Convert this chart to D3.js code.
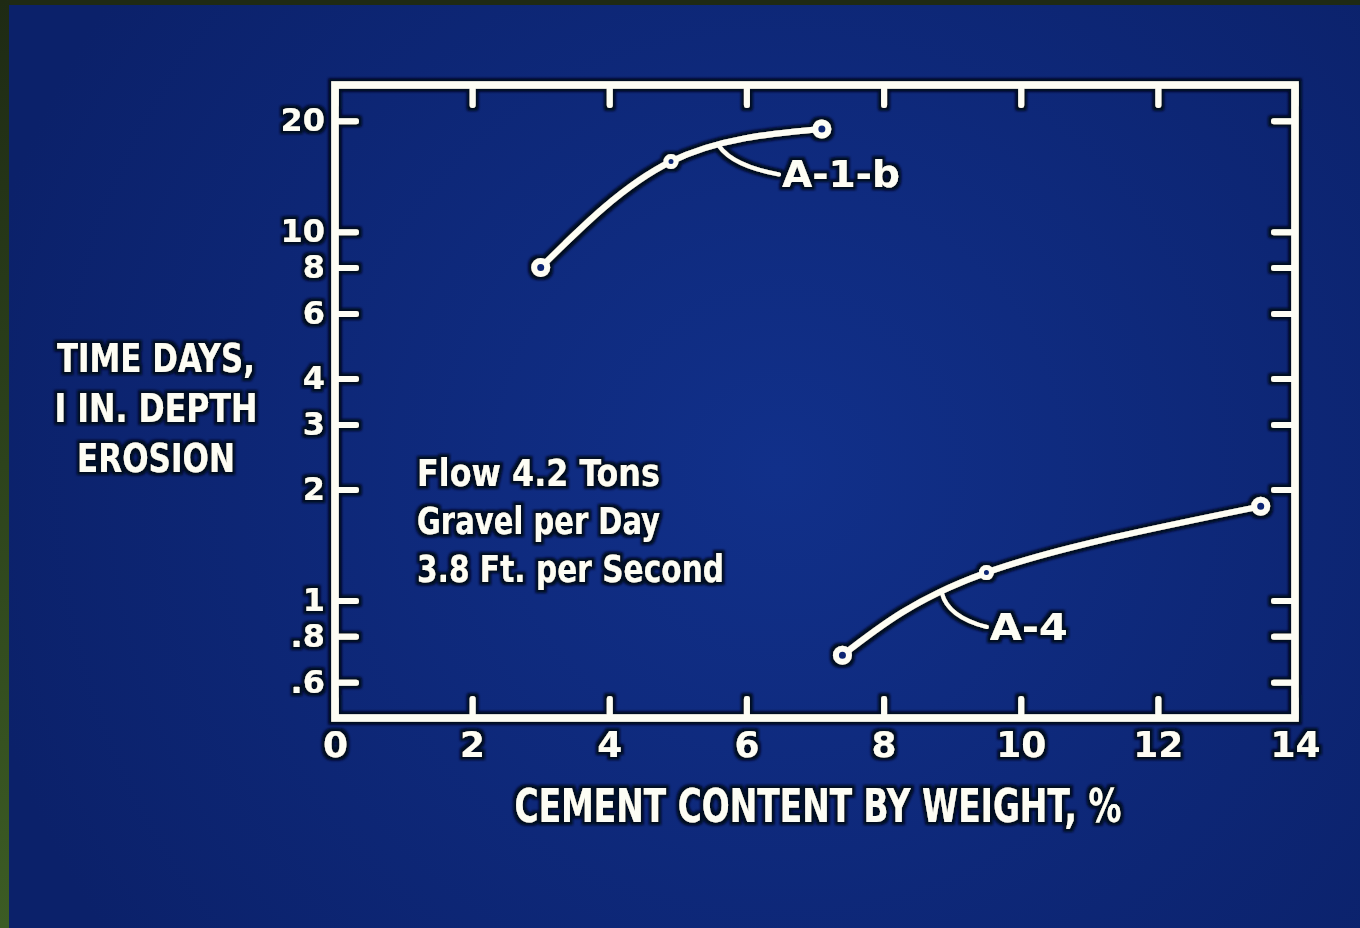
<!DOCTYPE html>
<html>
<head>
<meta charset="utf-8">
<script src="https://cdn.jsdelivr.net/npm/d3@7"></script>
<style>
  html, body { margin: 0; padding: 0; background: #0c226c; }
  svg { display: block; }
</style>
</head>
<body>
<svg id="chart" width="1360" height="928"></svg>
<script>
// Values
var xTicks = [0, 2, 4, 6, 8, 10, 12, 14];
var yTicks = [0.6, 0.8, 1, 2, 3, 4, 6, 8, 10, 20];
var yTickLabels = [".6", ".8", "1", "2", "3", "4", "6", "8", "10", "20"];

var a1bCement = [3.0, 4.9, 7.1];
var a1bDays = [8.0, 15.5, 19.0];

var a4Cement = [7.4, 9.5, 13.5];
var a4Days = [0.71, 1.19, 1.80];

var seriesNames = ["A-1-b", "A-4"];
var noteLines = ["Flow 4.2 Tons", "Gravel per Day", "3.8 Ft. per Second"];
var yTitleLines = ["TIME DAYS,", "I IN. DEPTH", "EROSION"];
var xTitle = "CEMENT CONTENT BY WEIGHT, %";

var ink = "#fdfdf4";
var svg = d3.select("#chart");

// background + the dark slide edges
var defs = svg.append("defs");
var bg = defs.append("radialGradient").attr("id", "bg")
  .attr("gradientUnits", "userSpaceOnUse")
  .attr("cx", 780).attr("cy", 470).attr("r", 820);
bg.append("stop").attr("offset", "0%").attr("stop-color", "#11308a");
bg.append("stop").attr("offset", "100%").attr("stop-color", "#0b216a");

var edge = defs.append("linearGradient").attr("id", "edge")
  .attr("x1", 0).attr("y1", 0).attr("x2", 0).attr("y2", 1);
edge.append("stop").attr("offset", "0%").attr("stop-color", "#1e2a14");
edge.append("stop").attr("offset", "100%").attr("stop-color", "#3c5c24");

// dark rim that the slide puts round every white stroke
var halo = defs.append("filter").attr("id", "halo")
  .attr("filterUnits", "userSpaceOnUse")
  .attr("x", 0).attr("y", 0).attr("width", 1360).attr("height", 928);
halo.append("feMorphology").attr("in", "SourceAlpha").attr("operator", "dilate")
  .attr("radius", 2.5).attr("result", "thick");
halo.append("feFlood").attr("flood-color", "#020824").attr("result", "dark");
halo.append("feComposite").attr("in", "dark").attr("in2", "thick")
  .attr("operator", "in").attr("result", "outline");
halo.append("feGaussianBlur").attr("in", "outline").attr("stdDeviation", 1).attr("result", "soft");
var merge = halo.append("feMerge");
merge.append("feMergeNode").attr("in", "soft");
merge.append("feMergeNode").attr("in", "SourceGraphic");

svg.append("rect").attr("width", 1360).attr("height", 928).attr("fill", "url(#bg)");
svg.append("rect").attr("width", 1360).attr("height", 5).attr("fill", "#1f2a14");
svg.append("rect").attr("width", 9).attr("height", 928).attr("fill", "url(#edge)");

// scales
var x = d3.scaleLinear().domain([0, 14]).range([335, 1295]);
var y = d3.scaleLog().domain([0.48, 25]).range([718, 85]);

var g = svg.append("g").attr("filter", "url(#halo)");

var tickFont = "'DejaVu Sans', 'Liberation Sans', sans-serif";
var letterFont = "'DejaVu Sans Condensed', 'Liberation Sans Narrow', 'DejaVu Sans', sans-serif";

function styleAxis(sel) {
  sel.attr("color", ink);
  sel.select(".domain").remove();
  sel.selectAll(".tick line")
    .attr("stroke-width", 6)
    .attr("stroke-linecap", "round");
  sel.selectAll(".tick text")
    .attr("font-family", tickFont)
    .attr("font-weight", "bold");
}

var labelFor = {};
yTicks.forEach(function(v, i) { labelFor[v] = yTickLabels[i]; });

// left axis with labels, ticks pointing inward
g.append("g")
  .attr("transform", "translate(" + x(0) + ",0)")
  .call(d3.axisLeft(y).tickValues(yTicks)
    .tickFormat(function(d) { return labelFor[d]; })
    .tickSize(-21).tickPadding(10))
  .call(styleAxis)
  .selectAll(".tick text").attr("font-size", 32);

// right axis, ticks only
g.append("g")
  .attr("transform", "translate(" + x(14) + ",0)")
  .call(d3.axisRight(y).tickValues(yTicks).tickFormat("").tickSize(-21))
  .call(styleAxis);

// bottom axis with labels
g.append("g")
  .attr("transform", "translate(0," + y.range()[0] + ")")
  .call(d3.axisBottom(x).tickValues(xTicks).tickFormat(d3.format("d"))
    .tickSize(-19).tickPadding(13))
  .call(styleAxis)
  .selectAll(".tick text").attr("font-size", 36);

// top axis, ticks only
g.append("g")
  .attr("transform", "translate(0," + y.range()[1] + ")")
  .call(d3.axisTop(x).tickValues(xTicks).tickFormat("").tickSize(-20))
  .call(styleAxis);

// frame
g.append("rect")
  .attr("x", x(0)).attr("y", y.range()[1])
  .attr("width", x(14) - x(0)).attr("height", y.range()[0] - y.range()[1])
  .attr("fill", "none").attr("stroke", ink).attr("stroke-width", 7.5);

// curves
var line = d3.line()
  .x(function(d) { return x(d[0]); })
  .y(function(d) { return y(d[1]); })
  .curve(d3.curveNatural);

var series = [
  { name: seriesNames[0], pts: d3.zip(a1bCement, a1bDays) },
  { name: seriesNames[1], pts: d3.zip(a4Cement, a4Days) }
];

var paths = series.map(function(s) {
  return g.append("path")
    .attr("d", line(s.pts))
    .attr("fill", "none").attr("stroke", ink)
    .attr("stroke-width", 6).attr("stroke-linecap", "round")
    .node();
});

series.forEach(function(s) {
  g.selectAll(null).data(s.pts).enter().append("circle")
    .attr("cx", function(d) { return x(d[0]); })
    .attr("cy", function(d) { return y(d[1]); })
    .attr("r", function(d, i) { return i == 1 ? 5 : 6.5; })
    .attr("fill", "#0d2672").attr("stroke", ink)
    .attr("stroke-width", function(d, i) { return i == 1 ? 5 : 6; });
});

// find the point of a drawn curve at a given screen x
function pointAtX(node, px) {
  var lo = 0, hi = node.getTotalLength();
  for (var k = 0; k < 40; k++) {
    var mid = (lo + hi) / 2;
    if (node.getPointAtLength(mid).x < px) lo = mid; else hi = mid;
  }
  return node.getPointAtLength(lo);
}

// curve labels with their leaders (positions in data units)
var tags = [
  { text: seriesNames[0], path: paths[0], at: 5.6, lx: 6.52, ly: 14.3, width: 118, bend: [14, 22] },
  { text: seriesNames[1], path: paths[1], at: 8.85, lx: 9.55, ly: 0.847, width: 78, bend: [6, 26] }
];

tags.forEach(function(t) {
  var p = pointAtX(t.path, x(t.at));
  var ex = x(t.lx) - 3, ey = y(t.ly);
  g.append("path")
    .attr("d", "M" + p.x + "," + (p.y + 2) +
      " Q" + (p.x + t.bend[0]) + "," + (p.y + t.bend[1]) + " " + ex + "," + ey)
    .attr("fill", "none").attr("stroke", ink)
    .attr("stroke-width", 4).attr("stroke-linecap", "round");
  g.append("text")
    .attr("x", x(t.lx)).attr("y", ey + 13)
    .attr("font-family", letterFont).attr("font-weight", "bold")
    .attr("font-size", 38).attr("fill", ink)
    .attr("textLength", t.width).attr("lengthAdjust", "spacingAndGlyphs")
    .text(t.text);
});

// note in the plot
var noteWidths = [243, 243, 307];
noteLines.forEach(function(s, i) {
  g.append("text")
    .attr("x", 417).attr("y", 486 + i * 48)
    .attr("font-family", letterFont).attr("font-weight", "bold")
    .attr("font-size", 37).attr("fill", ink)
    .attr("textLength", noteWidths[i]).attr("lengthAdjust", "spacingAndGlyphs")
    .text(s);
});

// y title
var yTitleWidths = [198, 203, 158];
yTitleLines.forEach(function(s, i) {
  g.append("text")
    .attr("x", 156).attr("y", 372 + i * 50)
    .attr("text-anchor", "middle")
    .attr("font-family", letterFont).attr("font-weight", "bold")
    .attr("font-size", 39).attr("fill", ink)
    .attr("textLength", yTitleWidths[i]).attr("lengthAdjust", "spacingAndGlyphs")
    .text(s);
});

// x title
g.append("text")
  .attr("x", 818).attr("y", 822)
  .attr("text-anchor", "middle")
  .attr("font-family", letterFont).attr("font-weight", "bold")
  .attr("font-size", 46).attr("fill", ink)
  .attr("textLength", 607).attr("lengthAdjust", "spacingAndGlyphs")
  .text(xTitle);
</script>
</body>
</html>
